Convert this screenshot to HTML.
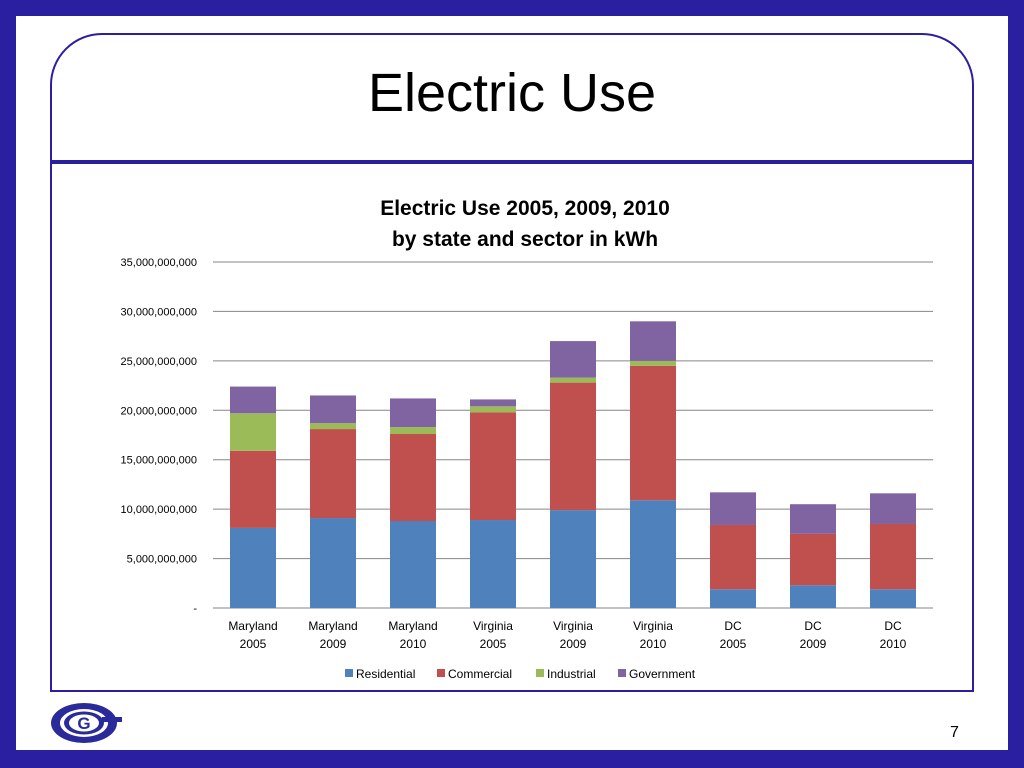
<!DOCTYPE html>
<html><head><meta charset="utf-8"><style>
body{margin:0;width:1024px;height:768px;background:#2a1fa0;position:relative;overflow:hidden;font-family:"Liberation Sans",sans-serif}
#inner{position:absolute;left:16px;top:16px;width:992px;height:734px;background:#fff}
#panel{position:absolute;left:50px;top:33px;width:920px;height:655px;border:2.5px solid #2a1fa0;border-radius:52px 52px 0 0;box-sizing:content-box}
#rule{position:absolute;left:51px;top:160px;width:922px;height:4px;background:#2a1fa0}
#title{position:absolute;left:0;width:1024px;top:62px;text-align:center;font-size:54px;color:#000}
#num{position:absolute;left:950px;top:724px;font-size:16px}
</style></head><body>
<div id="inner"></div>
<div id="panel"></div>
<div id="rule"></div>
<div id="title">Electric Use</div>
<div id="num">7</div>
<svg style="position:absolute;left:50px;top:700px" width="75" height="48">
<ellipse cx="34" cy="23" rx="33" ry="20" fill="#2a2a9a"/>
<ellipse cx="34" cy="23" rx="24" ry="14" fill="#fff"/>
<ellipse cx="34" cy="23" rx="20" ry="11.5" fill="#2a2a9a"/>
<ellipse cx="34" cy="23" rx="15" ry="8.5" fill="#fff"/>
<text x="34" y="29" text-anchor="middle" font-size="17" font-weight="bold" fill="#2a2a9a" font-family="Liberation Sans">G</text>
<rect x="52" y="17" width="20" height="5" fill="#2a2a9a"/>
</svg>
<svg id="chart" style="position:absolute;left:0;top:0" width="1024" height="768"></svg>
<script>
const categories=[["Maryland","2005"],["Maryland","2009"],["Maryland","2010"],["Virginia","2005"],["Virginia","2009"],["Virginia","2010"],["DC","2005"],["DC","2009"],["DC","2010"]];
const residential=[8.1,9.1,8.8,8.9,9.9,10.9,1.9,2.3,1.9];
const commercial=[7.8,9.0,8.8,10.9,12.9,13.6,6.5,5.2,6.6];
const industrial=[3.8,0.6,0.7,0.6,0.5,0.5,0,0,0];
const government=[2.7,2.8,2.9,0.7,3.7,4.0,3.3,3.0,3.1];
const yTicks=[0,5,10,15,20,25,30,35];
const yTickLabels=["-","5,000,000,000","10,000,000,000","15,000,000,000","20,000,000,000","25,000,000,000","30,000,000,000","35,000,000,000"];
const seriesNames=["Residential","Commercial","Industrial","Government"];
const colors=["#4f81bd","#c0504d","#9bbb59","#8064a2"];
const svg=document.getElementById('chart');const NS="http://www.w3.org/2000/svg";
const X0=213,X1=933,Y0=608,Y1=262,YMAX=35;
const y=v=>Y0-(v/YMAX)*(Y0-Y1);
const band=(X1-X0)/categories.length;
const xc=i=>X0+band*(i+0.5);
function mk(t,a,txt){const e=document.createElementNS(NS,t);for(const k in a)e.setAttribute(k,a[k]);if(txt!==undefined)e.textContent=txt;svg.appendChild(e);return e;}
let t=mk('text',{x:525,y:215,'text-anchor':'middle','font-size':21,'font-weight':'bold'},'Electric Use 2005, 2009, 2010');

t=mk('text',{x:525,y:246,'text-anchor':'middle','font-size':21,'font-weight':'bold'},'by state and sector in kWh');

yTicks.forEach((v,i)=>{const l=mk('line',{x1:X0,x2:X1,y1:y(v),y2:y(v),stroke:'#868686','stroke-width':1});

const tx=mk('text',{x:X0-16,y:y(v)+4,'text-anchor':'end','font-size':11},yTickLabels[i]);
});
const series=[residential,commercial,industrial,government];
categories.forEach((c,i)=>{let base=0;series.forEach((s,k)=>{const v=s[i];if(v>0){const r=mk('rect',{x:xc(i)-23,width:46,y:y(base+v),height:y(base)-y(base+v),fill:colors[k]});
}base+=v;});
const a=mk('text',{x:xc(i),y:630,'text-anchor':'middle','font-size':12},c[0]);
const b=mk('text',{x:xc(i),y:648,'text-anchor':'middle','font-size':12},c[1]);});
const lx=[345,437,536,618];
seriesNames.forEach((n,k)=>{const r=mk('rect',{x:lx[k],y:669,width:8,height:8,fill:colors[k]});
const tx=mk('text',{x:lx[k]+11,y:678,'font-size':12},n);});
</script>
</body></html>
